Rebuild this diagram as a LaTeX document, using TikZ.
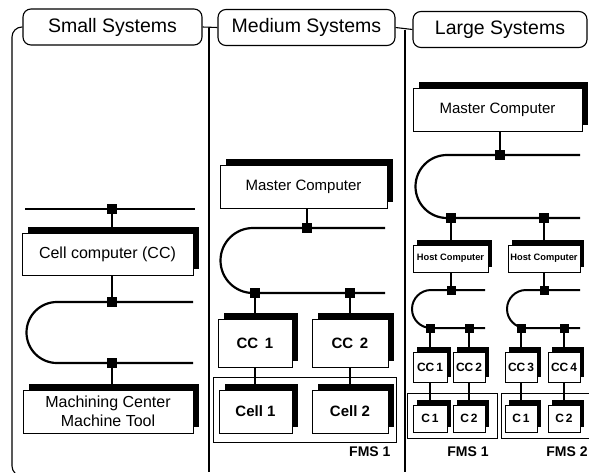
\documentclass[tikz,border=0pt]{standalone}
\usepackage{fontspec}
\setmainfont{Liberation Sans}
\usetikzlibrary{shadows,calc}
\begin{document}
\begin{tikzpicture}[x=1pt,y=-1pt,
  tab/.style={draw, line width=1.1pt, rounded corners=8pt, minimum height=36pt,
    inner sep=0pt, font=\fontsize{19.5}{22}\selectfont},
  frame/.style={line width=1.1pt},
  fmsframe/.style={draw, line width=1pt, inner sep=0pt},
  comp/.style={draw, fill=white, line width=0.9pt, inner sep=0pt, align=center,
    general shadow={fill=black, shadow xshift=6pt, shadow yshift=6pt}},
  minicomp/.style={draw, fill=white, line width=0.9pt, inner sep=0pt, align=center,
    general shadow={fill=black, shadow xshift=4pt, shadow yshift=5pt}},
  junc/.style={fill=black, minimum size=10pt, inner sep=0pt, outer sep=0pt},
  minijunc/.style={fill=black, minimum size=9pt, inner sep=0pt, outer sep=0pt},
  bus/.style={line width=2.2pt},
  minibus/.style={line width=2pt},
  link/.style={line width=1.1pt},
  bigtext/.style={font=\fontsize{16}{19}\selectfont},
  mastertext/.style={font=\fontsize{15}{18}\selectfont},
  cctext/.style={font=\bfseries\fontsize{15}{18}\selectfont},
  hosttext/.style={font=\bfseries\fontsize{9.3}{11}\selectfont},
  minitext/.style={font=\bfseries\fontsize{12}{14}\selectfont},
  fmstext/.style={font=\bfseries\fontsize{14}{16}\selectfont},
]
\useasboundingbox (0,0) rectangle (589,472);
\clip (0,0) rectangle (589,472);

% ---------- headings and panel outlines ----------
\node[tab, minimum width=179pt] (small) at (112.5,27) {Small Systems};
\node[tab, minimum width=177pt] (medium) at (306.5,27.5) {Medium Systems};
\node[tab, minimum width=174pt] (large) at (500,29.5) {Large Systems};

\coordinate (lb) at (12,476);
\coordinate (lbr) at (60,476);
\draw[frame, rounded corners=10pt] (small.west) -| (lb) -- (lbr);

\coordinate (d1) at (209,27.5);
\coordinate (d1b) at (209,472);
\draw[frame] (small.east) -- (medium.west);
\draw[frame] (d1) -- (d1b);
\coordinate (d2) at (405,29.5);
\coordinate (d2b) at (405,472);
\draw[frame] (medium.east) -- (large.west);
\draw[frame] (d2) -- (d2b);

% ---------- small systems ----------
\coordinate (sb1l) at (25,209);
\coordinate (sb1r) at (195,209);
\draw[bus] (sb1l) -- (sb1r);
\node[junc] (s1) at (112,209) {};
\node[comp, bigtext, minimum width=171pt, minimum height=42pt] (scc) at (107.5,254)
  {Cell computer (CC)};

\coordinate (sl1) at (193,302);
\coordinate (sl1a) at (57,302);
\coordinate (sl2) at (193,363);
\draw[bus] (sl1) -- (sl1a) arc[start angle=90, end angle=270, radius=30.5pt] -- (sl2);
\node[junc] (s2) at (112,302) {};
\node[junc] (s3) at (112,363) {};
\node[comp, bigtext, minimum width=170pt, minimum height=43pt] (smt) at (108,411.5)
  {Machining Center\\Machine Tool};

\draw[link] (s1) -- (s1 |- scc.north);
\draw[link] (scc.south -| s2) -- (s2);
\draw[link] (s3) -- (s3 |- smt.north);

% ---------- medium systems ----------
\node[comp, mastertext, minimum width=167pt, minimum height=43pt] (mmc) at (303.5,186.5)
  {Master Computer};
\coordinate (ml1) at (385,228);
\coordinate (ml1a) at (253,228);
\coordinate (ml2) at (385,293);
\draw[bus] (ml1) -- (ml1a) arc[start angle=90, end angle=270, radius=32.5pt] -- (ml2);
\node[junc] (m1) at (307,228) {};
\node[junc] (m2) at (255,293) {};
\node[junc] (m3) at (350,293) {};

\node[comp, cctext, minimum width=74pt, minimum height=48pt] (mcc1) at (255,343) {CC\, 1};
\node[comp, cctext, minimum width=76pt, minimum height=48pt] (mcc2) at (350,343) {CC\, 2};

\node[fmsframe, minimum width=183pt, minimum height=65pt] (mfms) at (304.5,409.5) {};
\node[comp, cctext, minimum width=73pt, minimum height=43pt] (mc1) at (255.5,411.5) {Cell 1};
\node[comp, cctext, minimum width=76pt, minimum height=43pt] (mc2) at (350,411.5) {Cell 2};
\node[fmstext, anchor=east] (mfmsl) at (394,452) {FMS 1};

\draw[link] (mmc.south -| m1) -- (m1);
\draw[link] (m2) -- (m2 |- mcc1.north);
\draw[link] (m3) -- (m3 |- mcc2.north);
\draw[link] (mcc1.south -| m2) -- (m2 |- mc1.north);
\draw[link] (mcc2.south -| m3) -- (m3 |- mc2.north);

% ---------- large systems ----------
\node[comp, mastertext, minimum width=169pt, minimum height=43pt] (lmc) at (497.5,109.5)
  {Master Computer};
\coordinate (ll1) at (580,155);
\coordinate (ll1a) at (447,155);
\coordinate (ll2) at (580,218);
\draw[bus] (ll1) -- (ll1a) arc[start angle=90, end angle=270, radius=31.5pt] -- (ll2);
\node[junc] (l1) at (500,155) {};
\node[junc] (l2) at (451,218) {};
\node[junc] (l3) at (544,218) {};

\node[minicomp, hosttext, minimum width=75pt, minimum height=27pt] (host1) at (450.5,258.5)
  {Host Computer};
\node[minicomp, hosttext, minimum width=72pt, minimum height=27pt] (host2) at (544,258.5)
  {Host Computer};

% cell bus of FMS 1
\coordinate (h1l1) at (485,290);
\coordinate (h1l1a) at (431,290);
\coordinate (h1l2) at (485,328);
\draw[minibus] (h1l1) -- (h1l1a) arc[start angle=90, end angle=270, radius=19pt] -- (h1l2);
\node[minijunc] (h1) at (451,290) {};
\node[minijunc] (h2) at (430,328) {};
\node[minijunc] (h3) at (469,328) {};

% cell bus of FMS 2
\coordinate (h2l1) at (580,290);
\coordinate (h2l1a) at (526,290);
\coordinate (h2l2) at (580,328);
\draw[minibus] (h2l1) -- (h2l1a) arc[start angle=90, end angle=270, radius=19pt] -- (h2l2);
\node[minijunc] (h4) at (544,290) {};
\node[minijunc] (h5) at (521,328) {};
\node[minijunc] (h6) at (564,328) {};

\node[minicomp, minitext, minimum width=34pt, minimum height=30pt] (lcc1) at (430,367) {CC\,1};
\node[minicomp, minitext, minimum width=32pt, minimum height=30pt] (lcc2) at (469,367) {CC\,2};
\node[minicomp, minitext, minimum width=32pt, minimum height=30pt] (lcc3) at (521,367) {CC\,3};
\node[minicomp, minitext, minimum width=32pt, minimum height=30pt] (lcc4) at (564,367) {CC\,4};

\node[fmsframe, minimum width=90pt, minimum height=45pt] (lf1) at (452,415.5) {};
\node[fmsframe, minimum width=99pt, minimum height=45pt] (lf2) at (550.5,415.5) {};
\node[minicomp, minitext, minimum width=34pt, minimum height=27pt] (lc1) at (430,418.5) {C\,1};
\node[minicomp, minitext, minimum width=32pt, minimum height=27pt] (lc2) at (469,418.5) {C\,2};
\node[minicomp, minitext, minimum width=32pt, minimum height=27pt] (lc3) at (521,418.5) {C\,1};
\node[minicomp, minitext, minimum width=32pt, minimum height=27pt] (lc4) at (564,418.5) {C\,2};
\node[fmstext] (lfms1) at (468,452) {FMS 1};
\node[fmstext] (lfms2) at (567,452) {FMS 2};

\draw[link] (lmc.south -| l1) -- (l1);
\draw[link] (l2) -- (l2 |- host1.north);
\draw[link] (l3) -- (l3 |- host2.north);
\draw[link] (host1.south -| h1) -- (h1);
\draw[link] (host2.south -| h4) -- (h4);
\draw[link] (h2) -- (h2 |- lcc1.north);
\draw[link] (h3) -- (h3 |- lcc2.north);
\draw[link] (h5) -- (h5 |- lcc3.north);
\draw[link] (h6) -- (h6 |- lcc4.north);
\draw[link] (lcc1) -- (lc1);
\draw[link] (lcc2) -- (lc2);
\draw[link] (lcc3) -- (lc3);
\draw[link] (lcc4) -- (lc4);
\end{tikzpicture}
\end{document}
